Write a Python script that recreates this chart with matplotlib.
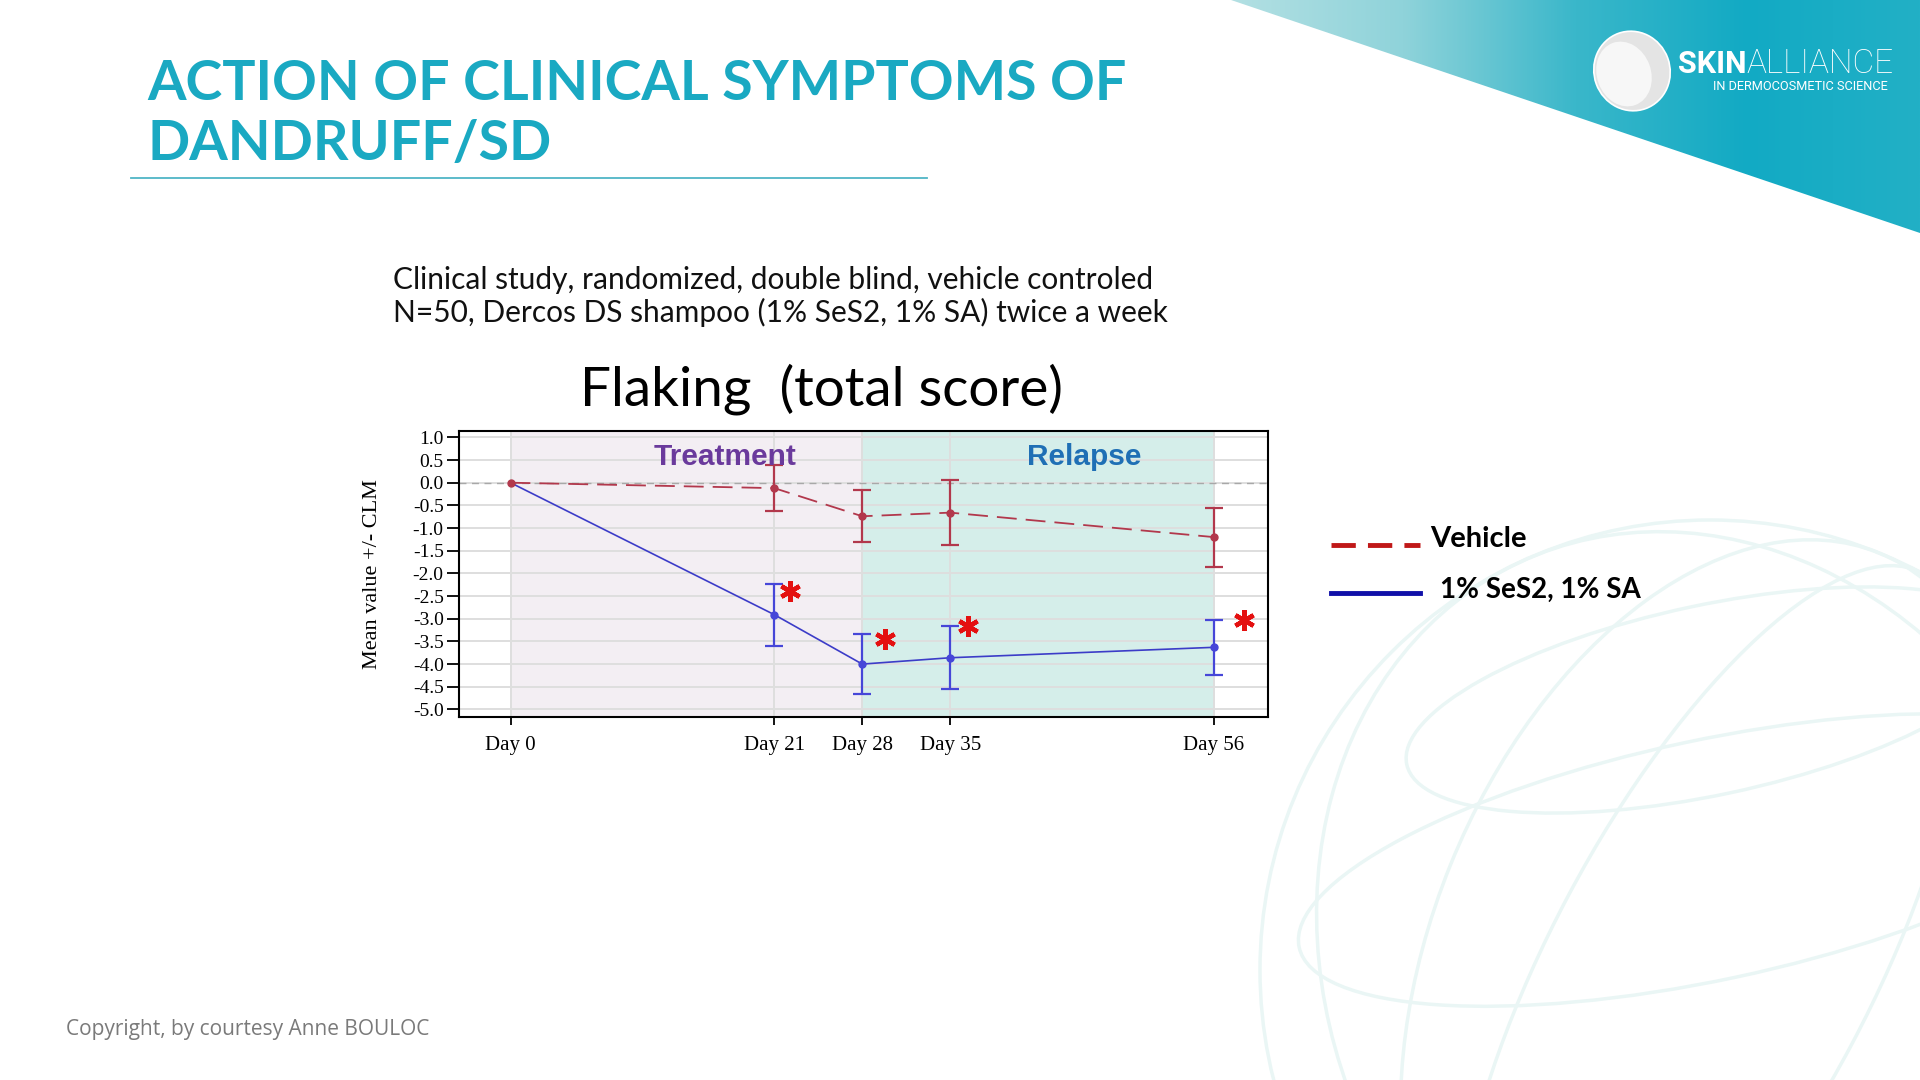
import numpy as np
import matplotlib
matplotlib.use("Agg")
import matplotlib.pyplot as plt
from matplotlib.patches import Polygon, Ellipse, Circle
from matplotlib.lines import Line2D
from matplotlib.transforms import offset_copy

plt.rcParams['axes.unicode_minus'] = False

# data
days = [0, 21, 28, 35, 56]
day_labels = ["Day 0", "Day 21", "Day 28", "Day 35", "Day 56"]
vehicle_mean = [0.0, -0.12, -0.74, -0.66, -1.20]
vehicle_err = [0.0, 0.51, 0.57, 0.72, 0.65]
active_mean = [0.0, -2.91, -4.00, -3.86, -3.63]
active_err = [0.0, 0.68, 0.66, 0.70, 0.61]
significant = [False, True, True, True, True]
phases = ["Treatment", "Relapse"]
phase_start = [0, 28]
phase_end = [28, 56]

# layout of the stars next to the blue error bars (pixels)
star_dx = [0, 16, 23, 18, 30]
star_dy = [0, -7, -5, 0, 0]

W, H = 1920, 1080
fig = plt.figure(figsize=(W / 100, H / 100), dpi=100)

# --- slide background (pixel coords) ---
bg = fig.add_axes([0, 0, 1, 1], zorder=0)
bg.set_xlim(0, W); bg.set_ylim(H, 0); bg.axis('off')

tri = Polygon([[1231, 0], [W, 0], [W, 233]], closed=True,
              facecolor='none', edgecolor='none')
bg.add_patch(tri)
grad = np.linspace(0, 1, 256)[np.newaxis, :]
cmap = matplotlib.colors.LinearSegmentedColormap.from_list(
    "teal", ["#b3e0e3", "#8fd3da", "#3ab7ca", "#12aac4", "#22b0c6"])
im = bg.imshow(grad, cmap=cmap, extent=[1231, W, 233, 0], aspect='auto')
im.set_clip_path(tri)

# faint globe in the lower right
gcol = "#eaf6f5"
cx, cy, r = 1710, 970, 450
bg.add_patch(Circle((cx, cy), r, fill=False, ec=gcol, lw=2.5))
for w_, ang in [(560, 22), (320, 28), (760, -25)]:
    bg.add_patch(Ellipse((cx, cy), w_, 2 * r, angle=ang, fill=False,
                         ec=gcol, lw=2.5))
for yy, ww, hh in [(700, 620, 190), (860, 840, 240)]:
    bg.add_patch(Ellipse((cx, yy), ww, hh, angle=-12, fill=False,
                         ec=gcol, lw=2.5))
bg.set_xlim(0, W); bg.set_ylim(H, 0)

# logo
bg.add_patch(Ellipse((1632, 71), 76, 80, angle=-20, fc="#e4e4e4", ec="white", lw=1.2))
bg.add_patch(Ellipse((1624, 74), 54, 66, angle=-20, fc="#f7f7f7", ec="none"))
skin = bg.text(1678, 64, "SKIN", color="white", fontsize=22, fontweight="bold",
               family="Roboto", va="center", ha="left")
renderer = fig.canvas.get_renderer()
skin_right = skin.get_window_extent(renderer).x1
bg.text(skin_right, 1080 - 64, "ALLIANCE", color="white", fontsize=24,
        fontweight="light", family="Roboto", va="center", ha="left",
        transform=None)
bg.text(1888, 87, "IN DERMOCOSMETIC SCIENCE", color="white", fontsize=9.2,
        family="Roboto", va="center", ha="right")

# heading
teal = "#1aa9c2"
bg.text(147, 100, "ACTION OF CLINICAL SYMPTOMS OF", color=teal, fontsize=40,
        fontweight="bold", family="Lato", va="baseline", ha="left")
bg.text(147, 160, "DANDRUFF/SD", color=teal, fontsize=40,
        fontweight="bold", family="Lato", va="baseline", ha="left")
bg.plot([131, 927], [177.5, 177.5], color="#4fb5c6", lw=1.3)

bg.text(393, 280, "Clinical study, randomized, double blind, vehicle controled",
        fontsize=21.5, family="Lato", va="center", ha="left", color="#111111")
bg.text(393, 312, "N=50, Dercos DS shampoo (1% SeS2, 1% SA) twice a week",
        fontsize=21.5, family="Lato", va="center", ha="left", color="#111111")
bg.text(821, 389, "Flaking  (total score)", fontsize=39.5, family="Lato",
        va="center", ha="center", color="black")

bg.text(66, 1030, "Copyright, by courtesy Anne BOULOC", fontsize=15,
        family="Open Sans", color="#7a7a7a", va="center", ha="left")

# legend drawn on the slide
bg.add_line(Line2D([1331, 1420], [545, 545], color="#c01818", lw=3.5,
                   dashes=(5, 2.5)))
bg.text(1430, 539, "Vehicle", fontsize=21, fontweight="bold", family="Lato",
        va="center", ha="left")
bg.add_line(Line2D([1331, 1420], [593, 593], color="#1010a8", lw=3.5))
bg.text(1440, 590, "1% SeS2, 1% SA", fontsize=20, fontweight="bold",
        family="Lato", va="center", ha="left")

# --- the chart ---
ax = fig.add_axes([459 / W, 1 - 716.7 / H, 809 / W, 285.7 / H], zorder=2)
ax.set_facecolor("white")
span_colors = ["#f3eef3", "#d5eeea"]
for s, e, c in zip(phase_start, phase_end, span_colors):
    ax.axvspan(s, e, color=c, lw=0, zorder=0)

ax.set_xlim(-4.1, 60.3)
ax.set_ylim(-5.16, 1.14)
ax.set_yticks(np.arange(-5.0, 1.01, 0.5))
ax.set_yticklabels(["%.1f" % v for v in np.arange(-5.0, 1.01, 0.5)])
ax.set_xticks(days)
ax.set_xticklabels(day_labels)
ax.grid(True, axis='both', color="#dedede", lw=1.4, zorder=0.5)
ax.set_axisbelow(True)
ax.axhline(0, color="#a8a8a8", lw=1.0, ls=(0, (5, 4)), zorder=1)

serif = "Liberation Serif"
for lab in ax.get_xticklabels() + ax.get_yticklabels():
    lab.set_family(serif)
ax.tick_params(axis='y', labelsize=14, length=9, width=1.3, pad=2)
ax.tick_params(axis='x', labelsize=15, length=6, width=1.3, pad=8)
for sp in ax.spines.values():
    sp.set_linewidth(1.5)
ax.set_ylabel("Mean value +/- CLM", family=serif, fontsize=16, labelpad=22)

veh_col = "#b2384c"
act_col = "#3c3cc8"
ax.plot(days, vehicle_mean, color=veh_col, lw=1.3, dashes=(11, 5), zorder=3)
ax.errorbar(days[1:], vehicle_mean[1:], yerr=vehicle_err[1:], fmt='o',
            color=veh_col, ms=5, elinewidth=1.6, capsize=6.5, capthick=1.6,
            zorder=4)
ax.plot(days[0], vehicle_mean[0], 'o', color=veh_col, ms=5, zorder=5)

ax.plot(days, active_mean, color=act_col, lw=1.2, zorder=3)
ax.errorbar(days[1:], active_mean[1:], yerr=active_err[1:], fmt='o',
            color="#4646d8", ms=5, elinewidth=1.6, capsize=6.5, capthick=1.6,
            zorder=4)

for d, m, e, sig, dx, dy in zip(days, active_mean, active_err, significant,
                                star_dx, star_dy):
    if sig:
        tr = offset_copy(ax.transData, fig=fig, x=dx, y=dy, units='dots')
        ax.plot(d, m + e, marker=(6, 2, 0), ms=15, mew=3.2, color="#e41010",
                transform=tr, zorder=6, clip_on=False)

phase_colors = ["#6a3a9c", "#1f6fb5"]
phase_x = [17.05, 45.7]
for name, x, c in zip(phases, phase_x, phase_colors):
    ax.text(x, 0.57, name, color=c, fontsize=21.5, fontweight="bold",
            family="Liberation Sans", ha="center", va="center", zorder=6)

fig.savefig("out.png", dpi=100)
